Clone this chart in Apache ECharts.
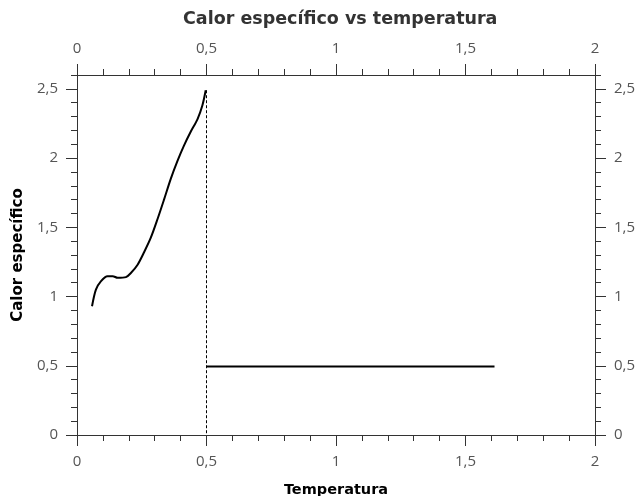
<!DOCTYPE html>
<html>
<head>
<meta charset="utf-8">
<script src="https://cdn.jsdelivr.net/npm/echarts@6/dist/echarts.min.js"></script>
<style>
  html, body { margin: 0; padding: 0; background: #fff; }
  #chart { width: 638px; height: 496px; }
</style>
</head>
<body>
<div id="chart"></div>
<script>
// Specific heat below the transition temperature
const tempLow = [0.058, 0.073, 0.092, 0.118, 0.138, 0.157, 0.189, 0.208, 0.234, 0.259, 0.285, 0.311, 0.336, 0.362, 0.388, 0.413, 0.439, 0.465, 0.484, 0.497];
const heatLow = [0.93, 1.05, 1.11, 1.147, 1.147, 1.135, 1.14, 1.17, 1.23, 1.32, 1.425, 1.56, 1.70, 1.85, 1.98, 2.09, 2.19, 2.28, 2.38, 2.49];
// Constant specific heat above the transition
const tempHigh = [0.5, 1.612];
const heatHigh = [0.495, 0.495];
// Vertical jump at the transition
const tempJump = [0.5, 0.5];
const heatJump = [2.49, 0];

const xTicks = [0, 0.5, 1, 1.5, 2];
const yTicks = [0, 0.5, 1, 1.5, 2, 2.5];

const zip = (a, b) => a.map((v, i) => [v, b[i]]);
const fmt = v => String(+(+v).toFixed(2)).replace('.', ',');
const LABEL_FONT = 'Open Sans';
const NAME_FONT = 'DejaVu Sans';
const AXIS_COLOR = '#333';
const LABEL_COLOR = '#555';
const Y_MAX = 2.6;
const GRID = { left: 77, right: 43, top: 75, bottom: 61, outerBoundsMode: 'none', containLabel: false };

function xAxis(pos, name) {
  return {
    type: 'value', gridIndex: 0, position: pos, min: 0, max: 2, interval: 0.5,
    name: name, nameLocation: 'middle', nameGap: 48,
    nameTextStyle: { fontFamily: NAME_FONT, fontWeight: 'bold', fontSize: 14.5, color: '#000' },
    axisLine: { show: true, onZero: false, lineStyle: { color: AXIS_COLOR, width: 1 } },
    axisTick: { show: true, length: 11, lineStyle: { color: AXIS_COLOR } },
    minorTick: { show: true, splitNumber: 5, length: 6, lineStyle: { color: AXIS_COLOR } },
    splitLine: { show: false },
    axisLabel: { margin: 19, fontFamily: LABEL_FONT, fontSize: 15, color: LABEL_COLOR, formatter: fmt }
  };
}
// Y axis with short ticks every 0.1 and labels every 0.5
function yAxisMain(pos, name) {
  return {
    type: 'value', gridIndex: 0, position: pos, min: 0, max: Y_MAX, interval: 0.1,
    name: name, nameLocation: 'middle', nameGap: 44, nameRotate: 90,
    nameTextStyle: { fontFamily: NAME_FONT, fontWeight: 'bold', fontSize: 15, color: '#000' },
    axisLine: { show: true, onZero: false, lineStyle: { color: AXIS_COLOR, width: 1 } },
    axisTick: { show: true, length: 6, lineStyle: { color: AXIS_COLOR } },
    splitLine: { show: false },
    axisLabel: { margin: 19, customValues: yTicks, fontFamily: LABEL_FONT, fontSize: 15, color: LABEL_COLOR, formatter: fmt }
  };
}
// Overlay y axis carrying only the long ticks every 0.5
function yAxisMajorTicks(pos) {
  return {
    type: 'value', gridIndex: 1, position: pos, min: 0, max: Y_MAX,
    axisLine: { show: false },
    axisTick: { show: true, length: 11, customValues: yTicks, lineStyle: { color: AXIS_COLOR } },
    axisLabel: { show: false },
    splitLine: { show: false }
  };
}
function hiddenX() {
  return { type: 'value', gridIndex: 1, min: 0, max: 2, show: false };
}

const chart = echarts.init(document.getElementById('chart'), null, { renderer: 'canvas' });
chart.setOption({
  animation: false,
  backgroundColor: '#fff',
  // title is centred over the plot area rather than the canvas
  title: {
    text: 'Calor específico vs temperatura', left: 178, top: 5,
    textStyle: { fontFamily: NAME_FONT, fontWeight: 'bold', fontSize: 17.5, color: '#333' }
  },
  grid: [Object.assign({}, GRID), Object.assign({}, GRID)],
  xAxis: [xAxis('bottom', 'Temperatura'), xAxis('top', ''), hiddenX()],
  yAxis: [yAxisMain('left', 'Calor específico'), yAxisMain('right', ''), yAxisMajorTicks('left'), yAxisMajorTicks('right')],
  series: [
    {
      type: 'line', xAxisIndex: 0, yAxisIndex: 0, data: zip(tempLow, heatLow), smooth: 0.3, showSymbol: false,
      lineStyle: { color: '#000', width: 2 }
    },
    {
      type: 'line', xAxisIndex: 0, yAxisIndex: 0, data: zip(tempJump, heatJump), showSymbol: false,
      lineStyle: { color: '#000', width: 1, type: [3, 2] }
    },
    {
      type: 'line', xAxisIndex: 0, yAxisIndex: 0, data: zip(tempHigh, heatHigh), showSymbol: false,
      lineStyle: { color: '#000', width: 2 }
    }
  ]
});
</script>
</body>
</html>
